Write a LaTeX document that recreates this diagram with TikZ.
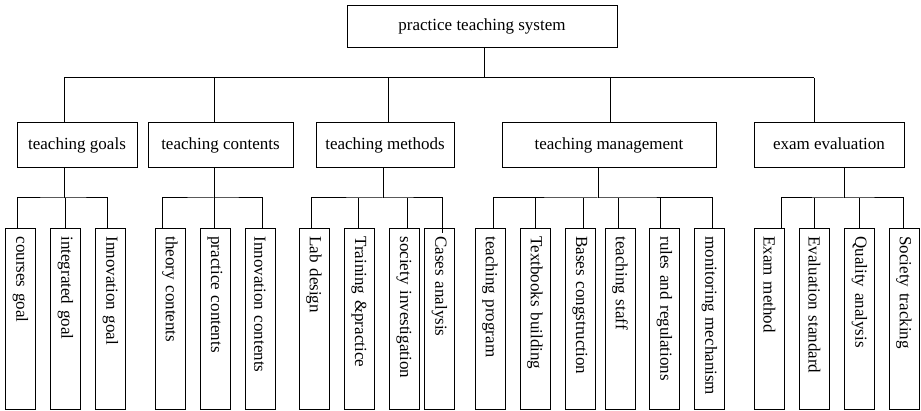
\documentclass[tikz,border=0pt]{standalone}
\usepackage{fontspec}
\setmainfont{Liberation Serif}
\begin{document}
\begin{tikzpicture}[x=1pt,y=-1pt,line width=1pt,
  every node/.style={font=\fontsize{17}{20}\selectfont},
  rootbox/.style={draw,minimum width=270pt,minimum height=42pt,inner sep=0pt,text height=12pt,text depth=4pt},
  midbox/.style={draw,minimum height=45pt,inner sep=0pt,text height=12pt,text depth=4pt},
  leaf/.style={draw,rotate=-90,anchor=west,minimum height=30pt,text width=165pt,align=left,inner xsep=8pt,inner ysep=0pt}]
\useasboundingbox (0,0) rectangle (921,411);
% root
\node[rootbox] (root) at (482,27) {practice teaching system};
% level 2
\node[midbox,minimum width=120pt] (g) at (77,145.5) {teaching goals};
\node[midbox,minimum width=145pt] (c) at (220.5,145.5) {teaching contents};
\node[midbox,minimum width=138pt] (m) at (385,145.5) {teaching methods};
\node[midbox,minimum width=214pt] (t) at (609,145.5) {teaching management};
\node[midbox,minimum width=150pt] (e) at (829,145.5) {exam evaluation};
% bus from root
\coordinate (rb) at (484,78);
\coordinate (d1) at (64,78);
\coordinate (d2) at (214,78);
\coordinate (d3) at (388,78);
\coordinate (d4) at (610,78);
\coordinate (d5) at (814,78);
\draw (root.south -| rb) -- (rb);
\draw (d1) -- (d5);
\foreach \d/\n in {d1/g,d2/c,d3/m,d4/t,d5/e} \draw (\d) -- (\d |- \n.north);
% leaves: goals
\node[leaf] (g1) at (20.5,228) {courses goal};
\node[leaf] (g2) at (65.5,228) {integrated goal};
\node[leaf] (g3) at (110.5,228) {Innovation goal};
% contents
\node[leaf] (c1) at (170,228) {theory contents};
\node[leaf] (c2) at (215,228) {practice contents};
\node[leaf] (c3) at (260,228) {Innovation contents};
% methods
\node[leaf] (m1) at (314,228) {Lab design};
\node[leaf] (m2) at (359,228) {Training \&practice};
\node[leaf] (m3) at (404,228) {society investigation};
\node[leaf] (m4) at (439.5,228) {Cases analysis};
% management
\node[leaf] (t1) at (490,228) {teaching program};
\node[leaf] (t2) at (535,228) {Textbooks building};
\node[leaf] (t3) at (580,228) {Bases congstruction};
\node[leaf] (t4) at (620,228) {teaching staff};
\node[leaf] (t5) at (664.5,228) {rules and regulations};
\node[leaf] (t6) at (709.5,228) {monitoring mechanism};
% exam
\node[leaf] (e1) at (769.5,228) {Exam method};
\node[leaf] (e2) at (814.5,228) {Evaluation standard};
\node[leaf] (e3) at (859.5,228) {Quality analysis};
\node[leaf] (e4) at (904,228) {Society tracking};
% sub-buses
\coordinate (gs) at (64,198);
\coordinate (cs) at (214,198);
\coordinate (ms) at (383,198);
\coordinate (ts) at (598,198);
\coordinate (es) at (844,198);
\draw (g.south -| gs) -- (gs);
\draw (c.south -| cs) -- (cs);
\draw (m.south -| ms) -- (ms);
\draw (t.south -| ts) -- (ts);
\draw (e.south -| es) -- (es);
% goals children
\draw ([xshift=-3.5pt]g1.west) |- (gs) -| ([xshift=-3.5pt]g3.west);
\draw ([xshift=-0.5pt]g2.west) -- ([xshift=-0.5pt]g2.west |- gs);
% contents children
\draw ([xshift=-8pt]c1.west) |- (cs) -| ([xshift=2pt]c3.west);
\draw ([xshift=-1pt]c2.west) -- ([xshift=-1pt]c2.west |- cs);
% methods children
\draw ([xshift=-3pt]m1.west) |- (ms) -| ([xshift=2.5pt,yshift=-5pt]m4.west);
\draw ([xshift=-1pt]m2.west) -- ([xshift=-1pt]m2.west |- ms);
\draw ([xshift=3pt]m3.west) -- ([xshift=3pt]m3.west |- ms);
% management children
\draw ([xshift=3pt]t1.west) |- (ts) -| ([xshift=2.5pt]t6.west);
\draw ([xshift=0pt]t2.west) -- ([xshift=0pt]t2.west |- ts);
\draw ([xshift=3pt]t3.west) -- ([xshift=3pt]t3.west |- ts);
\draw ([xshift=-2pt]t4.west) -- ([xshift=-2pt]t4.west |- ts);
\draw ([xshift=-4.5pt]t5.west) -- ([xshift=-4.5pt]t5.west |- ts);
% exam children
\draw ([xshift=11.5pt]e1.west) |- (es) -| ([xshift=-1pt]e4.west);
\draw ([xshift=-0.5pt]e2.west) -- ([xshift=-0.5pt]e2.west |- es);
\draw ([xshift=-0.5pt]e3.west) -- ([xshift=-0.5pt]e3.west |- es);
\end{tikzpicture}
\end{document}
